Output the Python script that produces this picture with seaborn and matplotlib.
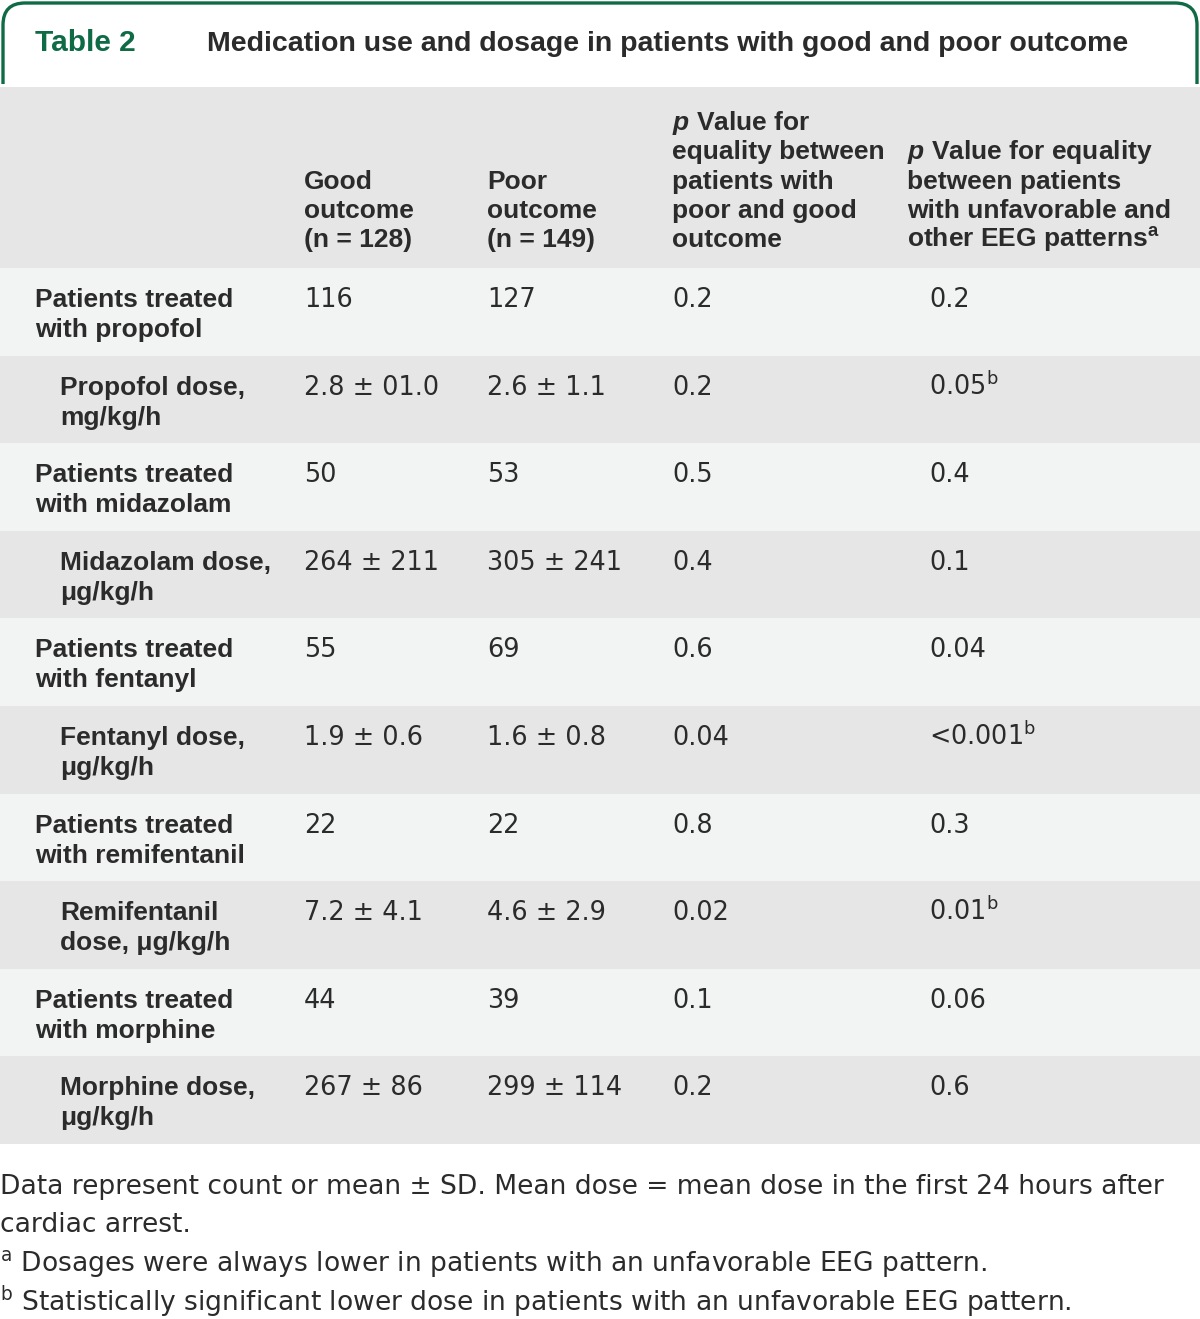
import matplotlib
matplotlib.use('Agg')
import matplotlib.pyplot as plt
import seaborn as sns
from matplotlib.path import Path
from matplotlib.patches import PathPatch

# table content
row_labels = [
  ('Patients treated', 'with propofol'),
  ('Propofol dose,', 'mg/kg/h'),
  ('Patients treated', 'with midazolam'),
  ('Midazolam dose,', 'μg/kg/h'),
  ('Patients treated', 'with fentanyl'),
  ('Fentanyl dose,', 'μg/kg/h'),
  ('Patients treated', 'with remifentanil'),
  ('Remifentanil', 'dose, μg/kg/h'),
  ('Patients treated', 'with morphine'),
  ('Morphine dose,', 'μg/kg/h'),
]
is_dose_row = [False, True, False, True, False, True, False, True, False, True]
good_outcome = ['116', '2.8 ± 01.0', '50', '264 ± 211', '55', '1.9 ± 0.6', '22', '7.2 ± 4.1', '44', '267 ± 86']
poor_outcome = ['127', '2.6 ± 1.1', '53', '305 ± 241', '69', '1.6 ± 0.8', '22', '4.6 ± 2.9', '39', '299 ± 114']
p_outcome = ['0.2', '0.2', '0.5', '0.4', '0.6', '0.04', '0.8', '0.02', '0.1', '0.2']
p_eeg = ['0.2', '0.05', '0.4', '0.1', '0.04', '<0.001', '0.3', '0.01', '0.06', '0.6']
p_eeg_sig = [False, True, False, False, False, True, False, True, False, False]

header_good = ['Good', 'outcome', '(n = 128)']
header_poor = ['Poor', 'outcome', '(n = 149)']
header_p1 = ['$\\mathit{p}$ Value for', 'equality between', 'patients with', 'poor and good', 'outcome']
header_p2 = ['$\\mathit{p}$ Value for equality', 'between patients', 'with unfavorable and', 'other EEG patterns$^\\mathregular{a}$']

title_tag = 'Table 2'
title_text = 'Medication use and dosage in patients with good and poor outcome'
footnotes = [
  'Data represent count or mean ± SD. Mean dose = mean dose in the first 24 hours after',
  'cardiac arrest.',
  '$^\\mathregular{a}$ Dosages were always lower in patients with an unfavorable EEG pattern.',
  '$^\\mathregular{b}$ Statistically significant lower dose in patients with an unfavorable EEG pattern.',
]

GREEN = '#0e6b46'
TEXT = '#2b2b2b'
HEAD_BG = '#e6e6e6'
LIGHT_BG = '#f2f3f3'
DARK_BG = '#e6e6e6'

sns.set_theme(style='white')
plt.rcParams['font.family'] = ['Liberation Sans', 'DejaVu Sans']
plt.rcParams['mathtext.fontset'] = 'custom'
plt.rcParams['mathtext.it'] = 'Liberation Sans:italic:bold'
plt.rcParams['mathtext.rm'] = 'Liberation Sans'

W, H = 1200, 1319
fig = plt.figure(figsize=(W / 100, H / 100), dpi=100)
ax = fig.add_axes([0, 0, 1, 1])
ax.set_xlim(0, W)
ax.set_ylim(H, 0)
ax.axis('off')

# tab outline
r = 22
verts = [(3, 84), (3, 3 + r), (3, 3), (3 + r, 3), (W - 3 - r, 3), (W - 3, 3), (W - 3, 3 + r), (W - 3, 84)]
codes = [Path.MOVETO, Path.LINETO, Path.CURVE3, Path.CURVE3, Path.LINETO, Path.CURVE3, Path.CURVE3, Path.LINETO]
ax.add_patch(PathPatch(Path(verts, codes), fill=False, edgecolor=GREEN, lw=2.4))

ax.text(35, 51, title_tag, color=GREEN, fontsize=21.5, fontweight='bold', va='baseline')
ax.text(207, 51, title_text, color=TEXT, fontsize=20.5, fontweight='bold', va='baseline')

# header band
head_top, head_bot = 87, 268
ax.axhspan(head_top, head_bot, color=HEAD_BG, lw=0)
head_base = [130, 159.5, 189, 218, 247]
bold = dict(color=TEXT, fontsize=19.0, fontweight='bold', va='baseline')
for k, line in enumerate(header_good):
  ax.text(304, head_base[k + 2], line, **bold)
for k, line in enumerate(header_poor):
  ax.text(487, head_base[k + 2], line, **bold)
for k, line in enumerate(header_p1):
  ax.text(672, head_base[k], line, **bold)
for k, line in enumerate(header_p2):
  ax.text(907, head_base[k + 1], line, **bold)

# body rows
row_h = (1144 - head_bot) / len(row_labels)
reg = dict(color=TEXT, fontsize=18.4, va='baseline', family=['DejaVu Sans'])
for i, (l1, l2) in enumerate(row_labels):
  top = head_bot + i * row_h
  ax.axhspan(top, top + row_h, color=DARK_BG if is_dose_row[i] else LIGHT_BG, lw=0)
  b1, b2 = top + 39, top + 69
  lx = 60 if is_dose_row[i] else 35
  ax.text(lx, b1, l1, **bold)
  ax.text(lx, b2, l2, **bold)
  ax.text(304, b1, good_outcome[i], **reg)
  ax.text(487, b1, poor_outcome[i], **reg)
  ax.text(672, b1, p_outcome[i], **reg)
  val = p_eeg[i] + ('$^\\mathregular{b}$' if p_eeg_sig[i] else '')
  ax.text(929, b1, val, **reg)

# footnotes
foot_base = [1194, 1232, 1272, 1311]
for k, line in enumerate(footnotes):
  ax.text(0, foot_base[k], line, color=TEXT, fontsize=19.1, va='baseline', family=['DejaVu Sans'])

fig.savefig('out.png', dpi=100)
